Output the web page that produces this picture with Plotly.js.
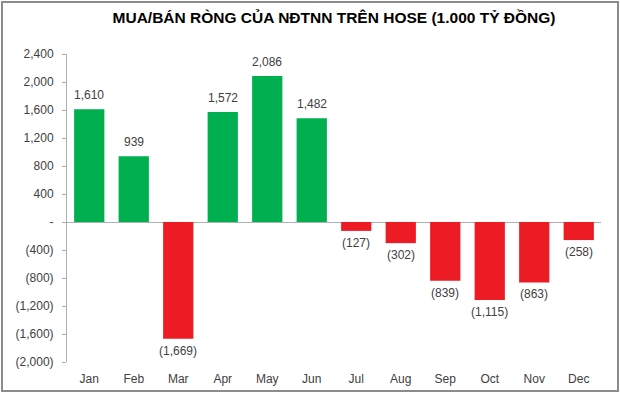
<!DOCTYPE html>
<html><head><meta charset="utf-8">
<script src="https://cdn.plot.ly/plotly-3.0.1.min.js"></script>
<style>
html,body{margin:0;padding:0;background:#fff;}
#wrap{position:relative;width:620px;height:393px;}
#frame{position:absolute;left:1px;top:1px;width:614px;height:387px;border:2px solid #8c8c8c;pointer-events:none;}
</style>
</head><body>
<div id="wrap"><div id="chart" style="width:620px;height:393px;"></div><div id="frame"></div></div>
<script>
const months = ['Jan','Feb','Mar','Apr','May','Jun','Jul','Aug','Sep','Oct','Nov','Dec'];
const netValues = [1610, 939, -1669, 1572, 2086, 1482, -127, -302, -839, -1115, -863, -258];
const yTickVals = [2400, 2000, 1600, 1200, 800, 400, 0, -400, -800, -1200, -1600, -2000];
const yTickText = ['2,400','2,000','1,600','1,200','800','400','-','(400)','(800)','(1,200)','(1,600)','(2,000)'];

function fmt(v){
  const s = Math.abs(v).toLocaleString('en-US');
  return v < 0 ? '(' + s + ')' : s;
}

const FONT = 'Liberation Sans, Arial, sans-serif';

const trace = {
  type: 'bar',
  x: months,
  y: netValues,
  marker: {color: netValues.map(v => v >= 0 ? '#00B050' : '#ED1C24'),
           line: {width: 0}},
  width: 0.68,
  hoverinfo: 'none'
};

const labels = months.map((m, i) => ({
  x: m, y: netValues[i], xref: 'x', yref: 'y',
  text: fmt(netValues[i]), showarrow: false,
  yanchor: netValues[i] >= 0 ? 'bottom' : 'top',
  yshift: netValues[i] >= 0 ? 5 : -3,
  font: {family: FONT, size: 12, color: '#404040'}
}));

const layout = {
  width: 620, height: 393,
  margin: {l: 67, r: 19, t: 54, b: 31},
  paper_bgcolor: '#ffffff', plot_bgcolor: '#ffffff',
  showlegend: false,
  annotations: labels,
  title: {text: '<b>MUA/BÁN RÒNG CỦA NĐTNN TRÊN HOSE (1.000 TỶ ĐỒNG)</b>',
          font: {family: FONT, size: 15.5, color: '#000'},
          xref: 'paper', x: 0.5, xanchor: 'center', y: 0.955, yanchor: 'middle'},
  xaxis: {
    showline: false, showgrid: false, zeroline: false, ticks: '',
    ticklabelstandoff: 8,
    tickfont: {family: FONT, size: 12, color: '#404040'},
    fixedrange: true
  },
  yaxis: {
    range: [-2000, 2400], tickvals: yTickVals, ticktext: yTickText,
    showgrid: false, zeroline: true, zerolinecolor: '#b0b0b0', zerolinewidth: 1,
    showline: true, linecolor: '#b0b0b0', linewidth: 1,
    ticks: 'outside', ticklen: 4, tickcolor: '#b0b0b0',
    ticklabelstandoff: 6,
    tickfont: {family: FONT, size: 12, color: '#404040'},
    fixedrange: true
  }
};

Plotly.newPlot('chart', [trace], layout, {displayModeBar: false, staticPlot: true});
</script>
</body></html>
